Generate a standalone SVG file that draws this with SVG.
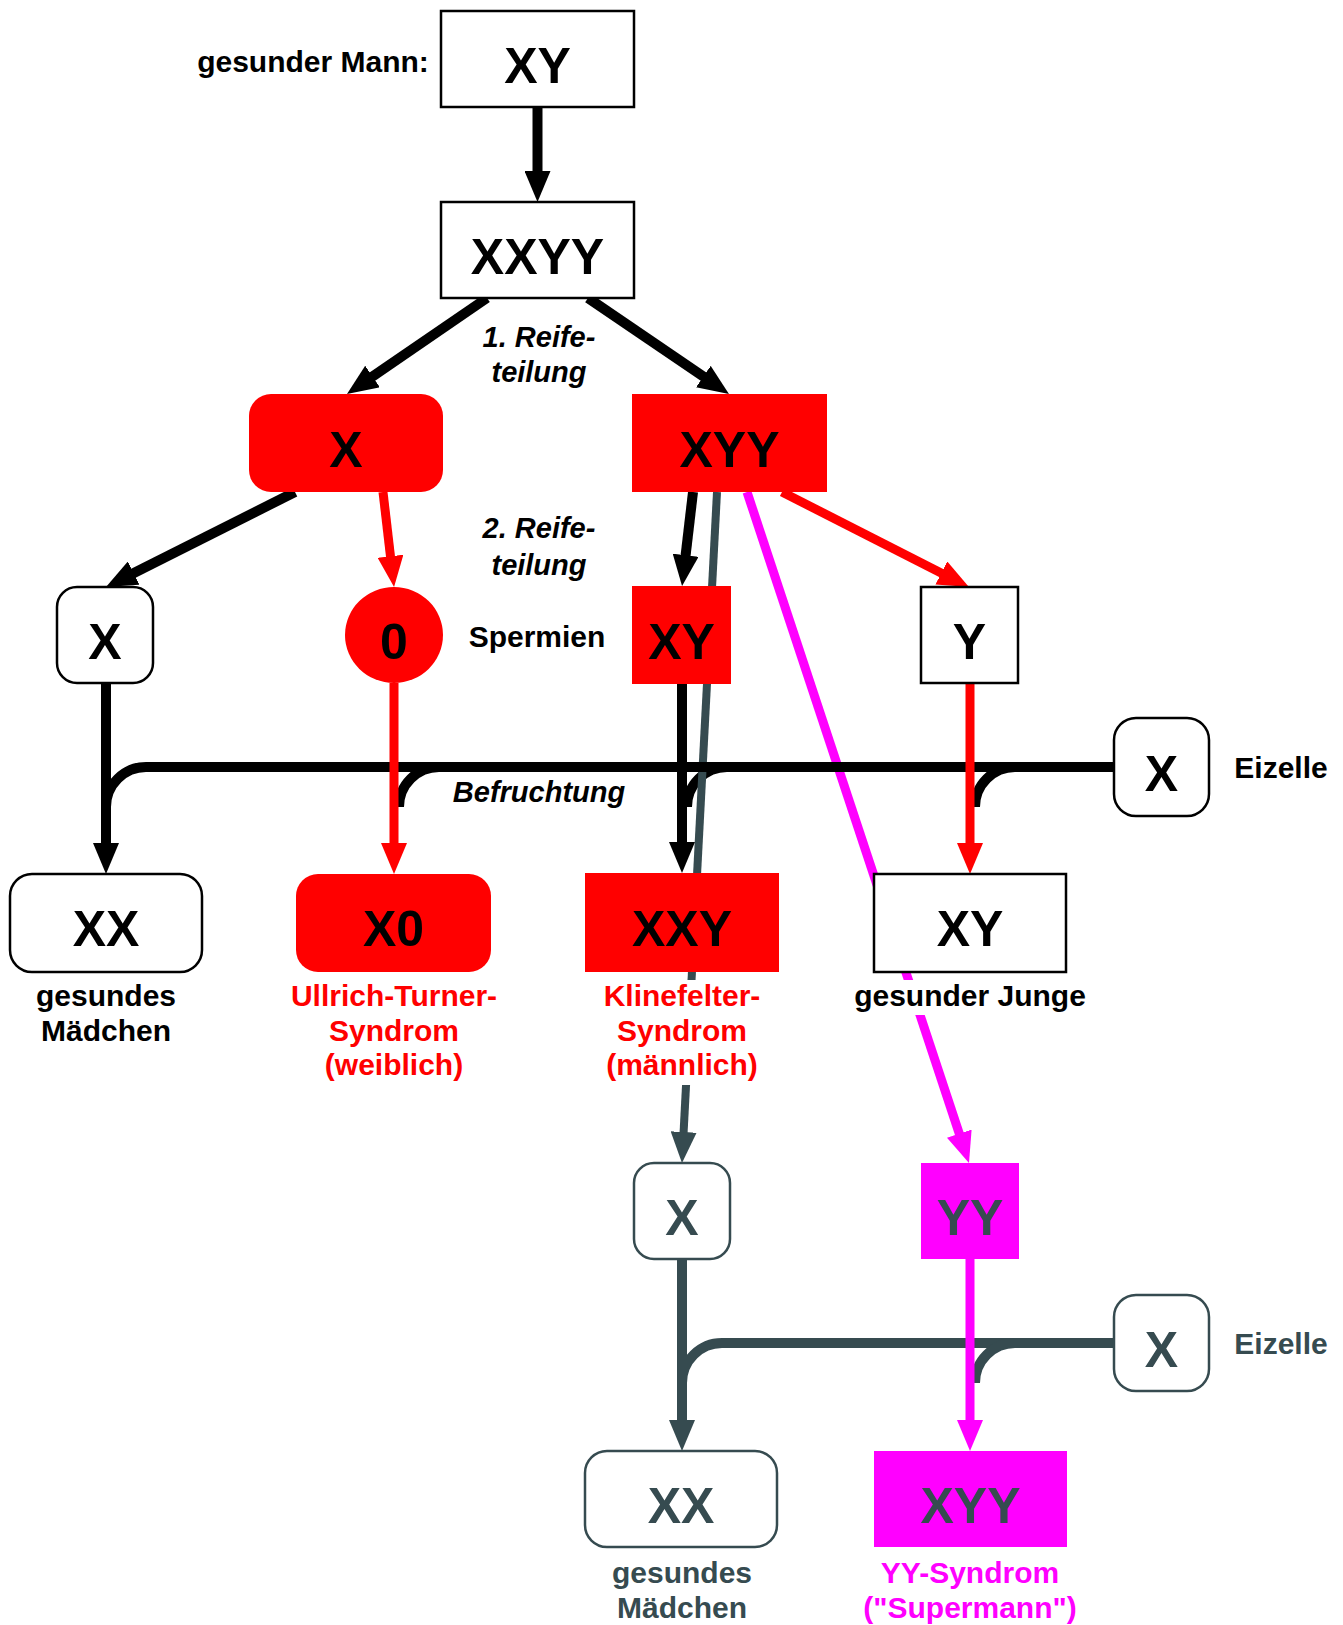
<svg xmlns="http://www.w3.org/2000/svg" width="1343" height="1625" viewBox="0 0 1343 1625">
<style>
text{font-family:"Liberation Sans",Arial,Helvetica,sans-serif;font-weight:bold;text-anchor:middle}
.big{font-size:50px}
.lbl{font-size:30px}
.it{font-size:29px;font-style:italic}
.box{fill:#fff;stroke:#000;stroke-width:2.5}
.gbox{fill:#fff;stroke:#364b50;stroke-width:2.5}
.red{fill:#ff0000}
.mag{fill:#ff00ff}
.eb{fill:none;stroke:#000;stroke-width:10}
.er{fill:none;stroke:#ff0000;stroke-width:9}
.eg{fill:none;stroke:#364b50;stroke-width:8}
.em{fill:none;stroke:#ff00ff;stroke-width:9}
.gt{fill:#364b50}
.rt{fill:#ff0000}
.mt{fill:#ff00ff}
</style>
<defs>
<marker id="ab" markerUnits="userSpaceOnUse" markerWidth="32" markerHeight="26" refX="2" refY="13" orient="auto"><path d="M0,0 L31,13 L0,26 z" fill="#000"/></marker>
<marker id="ar" markerUnits="userSpaceOnUse" markerWidth="32" markerHeight="26" refX="2" refY="13" orient="auto"><path d="M0,0 L31,13 L0,26 z" fill="#ff0000"/></marker>
<marker id="ag" markerUnits="userSpaceOnUse" markerWidth="32" markerHeight="26" refX="2" refY="13" orient="auto"><path d="M0,0 L31,13 L0,26 z" fill="#364b50"/></marker>
<marker id="am" markerUnits="userSpaceOnUse" markerWidth="32" markerHeight="26" refX="2" refY="13" orient="auto"><path d="M0,0 L31,13 L0,26 z" fill="#ff00ff"/></marker>
</defs>

<g id="connectors">
  <!-- Befruchtung curve to XXY (under gray line) -->
  <path class="eb" d="M1114,767 H727 A40,40 0 0 0 687,807"/>
  <!-- long gray and magenta lines -->
  <line class="eg" x1="717" y1="492" x2="683.5" y2="1134" marker-end="url(#ag)"/>
  <line class="em" x1="747" y1="492" x2="959.9" y2="1135.5" marker-end="url(#am)"/>
  <!-- Befruchtung black -->
  <path class="eb" d="M1114,767 H146 A40,40 0 0 0 106,807 V830"/>
  <path class="eb" d="M1114,767 H439 A40,40 0 0 0 399,807"/>
  <path class="eb" d="M1114,767 H1015 A40,40 0 0 0 975,807"/>
  <!-- Befruchtung gray -->
  <path class="eg" style="stroke-width:10" d="M1114,1343 H722 A40,40 0 0 0 682,1383 V1400"/>
  <path class="eg" style="stroke-width:10" d="M1114,1343 H1015 A40,40 0 0 0 975,1383"/>
  <!-- meiosis -->
  <line class="eb" x1="537.5" y1="107" x2="537.5" y2="173" marker-end="url(#ab)"/>
  <line class="eb" x1="487" y1="298" x2="370.9" y2="377.6" marker-end="url(#ab)"/>
  <line class="eb" x1="588" y1="298" x2="705" y2="377.7" marker-end="url(#ab)"/>
  <line class="eb" x1="295" y1="492" x2="131.9" y2="574" marker-end="url(#ab)"/>
  <line class="er" x1="383" y1="492" x2="390.7" y2="558.2" marker-end="url(#ar)"/>
  <line class="eb" x1="693" y1="492" x2="685.4" y2="557.2" marker-end="url(#ab)"/>
  <line class="er" x1="782" y1="492" x2="943.1" y2="573.9" marker-end="url(#ar)"/>
  <!-- fertilization -->
  <line class="eb" x1="106" y1="683" x2="106" y2="845" marker-end="url(#ab)"/>
  <line class="er" x1="394" y1="683" x2="394" y2="845" marker-end="url(#ar)"/>
  <line class="eb" x1="682" y1="684" x2="682" y2="844" marker-end="url(#ab)"/>
  <line class="er" x1="970" y1="683" x2="970" y2="845" marker-end="url(#ar)"/>
  <line class="eg" style="stroke-width:10" x1="682" y1="1259" x2="682" y2="1422" marker-end="url(#ag)"/>
  <line class="em" x1="970" y1="1259" x2="970" y2="1422" marker-end="url(#am)"/>
</g>

<g id="label-mann"><text class="lbl" x="313" y="72">gesunder Mann:</text></g>
<g id="label-reife1"><text class="it" x="539" y="347">1. Reife-</text><text class="it" x="539" y="382">teilung</text></g>
<g id="label-reife2"><text class="it" x="539" y="538">2. Reife-</text><text class="it" x="539" y="575">teilung</text></g>
<g id="label-spermien"><text class="lbl" x="537" y="647">Spermien</text></g>
<g id="label-befruchtung"><text class="it" x="539" y="802">Befruchtung</text></g>

<g id="n-xy-top"><rect class="box" x="441" y="11" width="193" height="96"/><text class="big" x="537.5" y="83">XY</text></g>
<g id="n-xxyy"><rect class="box" x="441" y="202" width="193" height="96"/><text class="big" x="537.5" y="274">XXYY</text></g>
<g id="n-x-red"><rect class="red" x="249" y="394" width="194" height="98" rx="22"/><text class="big" x="346" y="467">X</text></g>
<g id="n-xyy-red"><rect class="red" x="632" y="394" width="195" height="98"/><text class="big" x="729.5" y="467">XYY</text></g>
<g id="n-x-sperm"><rect class="box" x="57" y="587" width="96" height="96" rx="20"/><text class="big" x="105" y="659">X</text></g>
<g id="n-0-sperm"><ellipse class="red" cx="394" cy="635" rx="49" ry="48"/><text class="big" x="394" y="659">0</text></g>
<g id="n-xy-sperm"><rect class="red" x="632" y="586" width="99" height="98"/><text class="big" x="681.5" y="659">XY</text></g>
<g id="n-y-sperm"><rect class="box" x="921" y="587" width="97" height="96"/><text class="big" x="969.5" y="659">Y</text></g>
<g id="n-eizelle1"><rect class="box" x="1114" y="718" width="95" height="98" rx="22"/><text class="big" x="1161.5" y="791">X</text><text class="lbl" x="1281" y="778">Eizelle</text></g>

<g id="n-xx"><rect class="box" x="10" y="874" width="192" height="98" rx="22"/><text class="big" x="106" y="946">XX</text>
  <text class="lbl" x="106" y="1006">gesundes</text><text class="lbl" x="106" y="1041">Mädchen</text></g>
<g id="n-x0"><rect class="red" x="296" y="874" width="195" height="98" rx="22"/><text class="big" x="393.5" y="946">X0</text>
  <text class="lbl rt" x="394" y="1006">Ullrich-Turner-</text><text class="lbl rt" x="394" y="1041">Syndrom</text><text class="lbl rt" x="394" y="1075">(weiblich)</text></g>
<g id="n-xxy"><rect class="red" x="585" y="873" width="194" height="99"/><text class="big" x="682" y="946">XXY</text>
  <rect fill="#fff" x="600" y="980" width="165" height="105"/>
  <text class="lbl rt" x="682" y="1006">Klinefelter-</text><text class="lbl rt" x="682" y="1041">Syndrom</text><text class="lbl rt" x="682" y="1075">(männlich)</text></g>
<g id="n-xy-boy"><rect class="box" x="874" y="874" width="192" height="98"/><text class="big" x="970" y="946">XY</text>
  <rect fill="#fff" x="855" y="980" width="230" height="35"/>
  <text class="lbl" x="970" y="1006">gesunder Junge</text></g>

<g id="n-x-gray"><rect class="gbox" x="634" y="1163" width="96" height="96" rx="20"/><text class="big gt" x="682" y="1235">X</text></g>
<g id="n-yy"><rect class="mag" x="921" y="1163" width="98" height="96"/><text class="big gt" x="970" y="1235">YY</text></g>
<g id="n-eizelle2"><rect class="gbox" x="1114" y="1295" width="95" height="96" rx="22"/><text class="big gt" x="1161.5" y="1367">X</text><text class="lbl gt" x="1281" y="1354">Eizelle</text></g>
<g id="n-xx-gray"><rect class="gbox" x="585" y="1451" width="192" height="96" rx="22"/><text class="big gt" x="681" y="1523">XX</text>
  <text class="lbl gt" x="682" y="1583">gesundes</text><text class="lbl gt" x="682" y="1618">Mädchen</text></g>
<g id="n-xyy-mag"><rect class="mag" x="874" y="1451" width="193" height="96"/><text class="big gt" x="970.5" y="1523">XYY</text>
  <text class="lbl mt" x="970" y="1583">YY-Syndrom</text><text class="lbl mt" x="970" y="1618">("Supermann")</text></g>
</svg>
